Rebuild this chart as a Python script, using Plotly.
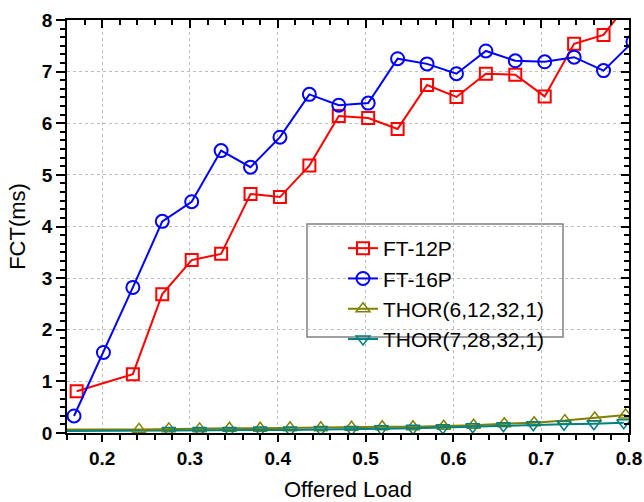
import plotly.graph_objects as go

# ---- data ----
x_ft16 = [0.168, 0.2015, 0.235, 0.2685, 0.302, 0.3355, 0.369, 0.4025, 0.436, 0.4695,
          0.503, 0.5365, 0.570, 0.6035, 0.637, 0.6705, 0.704, 0.7375, 0.771, 0.8045]
y_ft16 = [0.33, 1.56, 2.82, 4.10, 4.48, 5.47, 5.15, 5.73, 6.56, 6.35,
          6.39, 7.25, 7.15, 6.96, 7.40, 7.21, 7.19, 7.28, 7.02, 7.58]

x_ft12 = [0.171, 0.235, 0.2685, 0.302, 0.3355, 0.369, 0.4025, 0.436, 0.4695, 0.503,
          0.5365, 0.570, 0.6035, 0.637, 0.6705, 0.704, 0.7375, 0.771, 0.8045]
y_ft12 = [0.81, 1.14, 2.69, 3.35, 3.47, 4.63, 4.57, 5.18, 6.14, 6.10,
          5.89, 6.74, 6.51, 6.96, 6.94, 6.52, 7.54, 7.71, 8.45]

x_thor6 = [0.242, 0.276, 0.311, 0.345, 0.380, 0.414, 0.449, 0.484, 0.519, 0.554,
           0.589, 0.623, 0.658, 0.692, 0.727, 0.761, 0.796]
y_thor6 = [0.07, 0.08, 0.08, 0.09, 0.09, 0.10, 0.10, 0.11, 0.12, 0.12,
           0.13, 0.15, 0.18, 0.20, 0.24, 0.29, 0.35]
x_thor6_lead = [0.16, 0.242]
y_thor6_lead = [0.07, 0.07]

x_thor7 = [0.276, 0.311, 0.345, 0.380, 0.414, 0.449, 0.484, 0.518, 0.554, 0.588,
           0.622, 0.657, 0.691, 0.726, 0.760, 0.794]
y_thor7 = [0.05, 0.05, 0.05, 0.06, 0.06, 0.07, 0.07, 0.08, 0.09, 0.10,
           0.12, 0.14, 0.16, 0.17, 0.18, 0.20]
x_thor7_lead = [0.16, 0.276]
y_thor7_lead = [0.04, 0.05]

x_ticks = [0.2, 0.3, 0.4, 0.5, 0.6, 0.7, 0.8]
y_ticks = [0, 1, 2, 3, 4, 5, 6, 7, 8]

RED, BLUE, OLIVE, TEAL = "#FF0000", "#0000FF", "#808000", "#008080"

fig = go.Figure()

# leading line segments (no markers) for THOR series
fig.add_trace(go.Scatter(x=x_thor6_lead, y=y_thor6_lead, mode="lines",
                         line=dict(color=OLIVE, width=2), showlegend=False, hoverinfo="skip"))
fig.add_trace(go.Scatter(x=x_thor7_lead, y=y_thor7_lead, mode="lines",
                         line=dict(color=TEAL, width=2), showlegend=False, hoverinfo="skip"))

fig.add_trace(go.Scatter(x=x_ft12, y=y_ft12, mode="lines+markers", name="FT-12P",
                         line=dict(color=RED, width=2),
                         marker=dict(symbol="square-open", size=12, color=RED, line=dict(width=2))))
fig.add_trace(go.Scatter(x=x_ft16, y=y_ft16, mode="lines+markers", name="FT-16P",
                         line=dict(color=BLUE, width=2),
                         marker=dict(symbol="circle-open", size=13, color=BLUE, line=dict(width=2))))
fig.add_trace(go.Scatter(x=x_thor6, y=y_thor6, mode="lines+markers", name="THOR(6,12,32,1)",
                         line=dict(color=OLIVE, width=2),
                         marker=dict(symbol="triangle-up-open", size=12, color=OLIVE, line=dict(width=1.5))))
fig.add_trace(go.Scatter(x=x_thor7, y=y_thor7, mode="lines+markers", name="THOR(7,28,32,1)",
                         line=dict(color=TEAL, width=2),
                         marker=dict(symbol="triangle-down-open", size=12, color=TEAL, line=dict(width=1.5))))

# dummy trace for top/right mirror axes
fig.add_trace(go.Scatter(x=[0.5], y=[4], xaxis="x2", yaxis="y2", mode="markers",
                         marker=dict(opacity=0), showlegend=False, hoverinfo="skip"))

tickfont = dict(family="Liberation Sans, Arial", size=19, color="black", weight="bold")
titlefont = dict(family="Liberation Sans, Arial", size=22, color="black")
gridc = "#bdbdbd"

fig.update_layout(
    width=644, height=502,
    margin=dict(l=67, r=15, t=20, b=69),
    paper_bgcolor="white", plot_bgcolor="white",
    xaxis=dict(range=[0.16, 0.8], tickvals=x_ticks, ticktext=[f"{v:.1f}" for v in x_ticks],
               ticks="outside", ticklen=7, tickwidth=1.5, tickcolor="black",
               showline=True, linecolor="black", linewidth=1.5, automargin=False,
               showgrid=True, gridcolor=gridc, griddash="dot", gridwidth=1,
               minor=dict(dtick=0.02, tick0=0, ticks="outside", ticklen=5, tickcolor="black",
                          tickwidth=1.5, showgrid=False),
               tickfont=tickfont, zeroline=False,
               title=dict(text="Offered Load", font=titlefont, standoff=14)),
    yaxis=dict(range=[0, 8], tickvals=y_ticks,
               ticks="outside", ticklen=9, tickwidth=1.5, tickcolor="black",
               showline=True, linecolor="black", linewidth=1.5, automargin=False,
               showgrid=True, gridcolor=gridc, griddash="dot", gridwidth=1,
               minor=dict(dtick=1/6, tick0=0, ticks="outside", ticklen=5, tickcolor="black",
                          tickwidth=1.5, showgrid=False),
               tickfont=tickfont, zeroline=False,
               title=dict(text="FCT(ms)", font=titlefont, standoff=10)),
    xaxis2=dict(range=[0.16, 0.8], overlaying="x", side="top", anchor="y",
                tickvals=x_ticks, showticklabels=False, automargin=False,
                ticks="inside", ticklen=8, tickwidth=1.5, tickcolor="black",
                showline=True, linecolor="black", linewidth=1.5, showgrid=False, zeroline=False,
                minor=dict(dtick=0.02, tick0=0, ticks="inside", ticklen=5, tickcolor="black",
                           tickwidth=1.5, showgrid=False)),
    yaxis2=dict(range=[0, 8], overlaying="y", side="right", anchor="x",
                tickvals=y_ticks, showticklabels=False, automargin=False,
                ticks="inside", ticklen=8, tickwidth=1.5, tickcolor="black",
                showline=True, linecolor="black", linewidth=1.5, showgrid=False, zeroline=False,
                minor=dict(dtick=1/6, tick0=0, ticks="inside", ticklen=5, tickcolor="black",
                           tickwidth=1.5, showgrid=False)),
    legend=dict(x=(343 - 67) / 562, y=(433 - 228) / 413, xanchor="left", yanchor="top",
                bgcolor="rgba(0,0,0,0)", borderwidth=0,
                font=dict(family="Liberation Sans, Arial", size=21, color="black"),
                tracegroupgap=0),
    shapes=[dict(type="rect", xref="paper", yref="paper",
                 x0=(307 - 67) / 562, x1=(563 - 67) / 562,
                 y0=(433 - 337) / 413, y1=(433 - 224) / 413,
                 line=dict(color="#808080", width=1.5), fillcolor="white", layer="between")],
    showlegend=True,
)

fig.write_html("out.html")
